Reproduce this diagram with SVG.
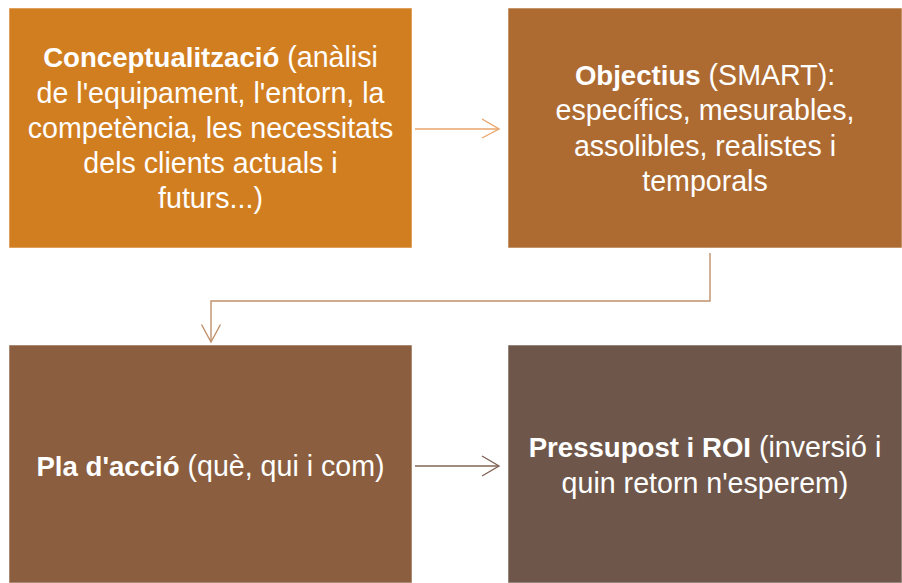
<svg xmlns="http://www.w3.org/2000/svg" width="902" height="583" viewBox="0 0 902 583">
<style>
.box{stroke:#ffffff;stroke-opacity:0.55;stroke-width:1}
.t{font-family:"Liberation Sans",Arial,sans-serif;font-size:28.6px;fill:#ffffff;text-anchor:middle}
.b{font-weight:bold;font-size:27.6px}
.c{fill:none;stroke-width:1.4}
</style>
<rect width="902" height="583" fill="#ffffff"/>
<g id="connectors">
<polyline class="c" stroke="#E8A66B" points="415,129 499,129"/>
<polyline class="c" stroke="#E8A66B" points="482,119 499,129 482,138"/>
<polyline class="c" stroke="#C0916C" points="710,253 710,301 211,301 211,342"/>
<polyline class="c" stroke="#C0916C" points="201.5,324.5 211,342 220.5,324.5"/>
<polyline class="c" stroke="#806456" points="415,466 499,466"/>
<polyline class="c" stroke="#806456" points="482,456 499,466 482,476"/>
</g>
<g id="n1">
<rect class="box" x="9" y="8" width="403" height="240" fill="#D17E21"/>
<text class="t"><tspan x="210.5" y="67"><tspan class="b">Conceptualització</tspan> (anàlisi</tspan><tspan x="210.5" y="102.5">de l'equipament, l'entorn, la</tspan><tspan x="210.5" y="138">competència, les necessitats</tspan><tspan x="210.5" y="173">dels clients actuals i</tspan><tspan x="210.5" y="208">futurs...)</tspan></text>
</g>
<g id="n2">
<rect class="box" x="508" y="8" width="394" height="240" fill="#AD6B32"/>
<text class="t"><tspan x="705" y="85"><tspan class="b">Objectius</tspan> (SMART):</tspan><tspan x="705" y="120">específics, mesurables,</tspan><tspan x="705" y="155.5">assolibles, realistes i</tspan><tspan x="705" y="191">temporals</tspan></text>
</g>
<g id="n3">
<rect class="box" x="9" y="345" width="403" height="238" fill="#8A5E3E"/>
<text class="t"><tspan x="210.5" y="476"><tspan class="b">Pla d'acció</tspan> (què, qui i com)</tspan></text>
</g>
<g id="n4">
<rect class="box" x="508" y="345" width="394" height="238" fill="#6E574A"/>
<text class="t"><tspan x="705" y="457"><tspan class="b">Pressupost i ROI</tspan> (inversió i</tspan><tspan x="705" y="493">quin retorn n'esperem)</tspan></text>
</g>
</svg>
